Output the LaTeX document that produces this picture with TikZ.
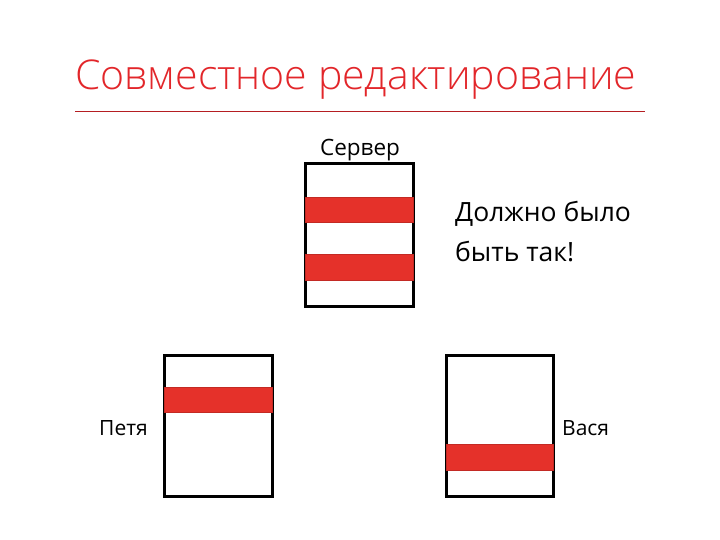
\documentclass[tikz,border=0pt]{standalone}
\usepackage{fontspec}
\setmainfont{Open Sans}
\newfontfamily\ttlfont{Open Sans}[UprightFont=* Light]
\definecolor{ttlred}{HTML}{E2262A}
\definecolor{bandred}{HTML}{E5312A}
\begin{document}
\begin{tikzpicture}[x=1pt,y=-1pt,
  doc/.style={draw=black,line width=3pt,fill=white},
  band/.style={fill=bandred,draw=bandred!85!black,line width=0.6pt},
  lbl/.style={font=\fontsize{21}{24}\selectfont,inner sep=0pt}]
\useasboundingbox (0,0) rectangle (720,540);
\node[anchor=base west,inner sep=0pt,text=ttlred,font=\ttlfont\fontsize{41}{50}\selectfont] (title) at (75,90) {Совместное редактирование};
\coordinate (l1) at (75,111);
\coordinate (l2) at (645,111);
\draw[ttlred!80!black,line width=0.8pt] (l1) -- (l2);
% server
\draw[doc] (305,164) rectangle (413,306);
\draw[band] (305,197) rectangle (413,222);
\draw[band] (305,254) rectangle (413,280);
\node[lbl,anchor=base,font=\fontsize{22.5}{24}\selectfont] (srv) at (360,156) {Сервер};
\node[anchor=north west,align=left,inner sep=0pt,font=\fontsize{26.5}{40}\selectfont] (note) at (455,201) {Должно было\\быть так!};
% petya
\draw[doc] (164,355) rectangle (272,496);
\draw[band] (164,387) rectangle (272,412);
\node[lbl,anchor=base east] (petya) at (148,435) {Петя};
% vasya
\draw[doc] (446,355) rectangle (553,496);
\draw[band] (446,444) rectangle (553,470);
\node[lbl,anchor=base west] (vasya) at (562,435) {Вася};
\end{tikzpicture}
\end{document}
